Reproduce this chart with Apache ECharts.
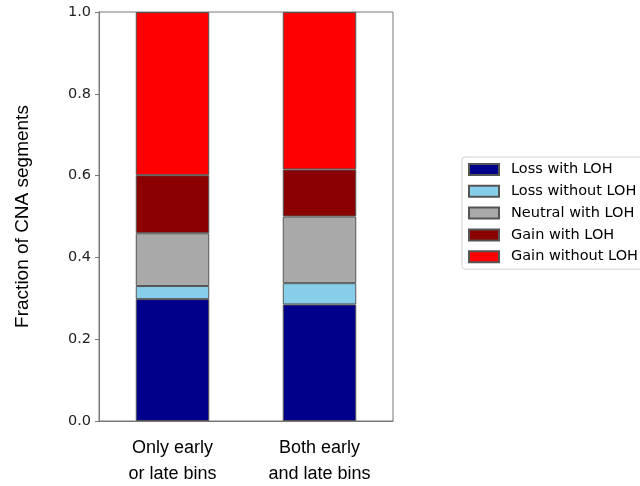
<!DOCTYPE html>
<html><head><meta charset="utf-8">
<script src="https://cdn.jsdelivr.net/npm/echarts@6/dist/echarts.min.js"></script>
<style>html,body{margin:0;padding:0;background:#fff}#c{width:640px;height:486px}</style>
</head><body><div id="c"></div>
<script>
const categories = ['Only early\nor late bins', 'Both early\nand late bins'];
const seriesNames = ['Loss with LOH', 'Loss without LOH', 'Neutral with LOH', 'Gain with LOH', 'Gain without LOH'];
const colors = ['#00008b', '#87ceeb', '#a9a9a9', '#8b0000', '#ff0000'];
const lossWithLOH = [0.298, 0.285];
const lossWithoutLOH = [0.032, 0.052];
const neutralWithLOH = [0.129, 0.163];
const gainWithLOH = [0.142, 0.115];
const gainWithoutLOH = [0.399, 0.385];
const yTicks = [0, 0.2, 0.4, 0.6, 0.8, 1.0];
const values = [lossWithLOH, lossWithoutLOH, neutralWithLOH, gainWithLOH, gainWithoutLOH];

const chart = echarts.init(document.getElementById('c'));
chart.setOption({
  animation: false,
  grid: {left: 99, right: 247, top: 12, bottom: 65, outerBoundsMode: 'none', containLabel: false,
    show: true, borderColor: '#777', borderWidth: 1, backgroundColor: 'transparent'},
  legend: {
    orient: 'vertical', left: 462, top: 157,
    icon: 'rect',
    itemWidth: 30, itemHeight: 11, itemGap: 6.8,
    padding: [5, 14, 5, 6],
    borderColor: '#d0d0d0', borderWidth: 1, borderRadius: 3,
    textStyle: {fontFamily: 'DejaVu Sans', fontSize: 14.5, color: '#000', padding: [0, 0, 0, 7]},
    data: seriesNames
  },
  xAxis: {
    type: 'category', data: categories,
    axisLine: {lineStyle: {color: '#777'}},
    axisTick: {alignWithLabel: true, length: 4, lineStyle: {color: '#777'}},
    axisLabel: {fontFamily: 'Liberation Sans', fontSize: 18, color: '#000', margin: 14, lineHeight: 26}
  },
  yAxis: {
    type: 'value', min: 0, max: 1, interval: 0.2,
    name: 'Fraction of CNA segments', nameLocation: 'middle', nameGap: 67,
    nameTextStyle: {fontFamily: 'Liberation Sans', fontSize: 19, color: '#000'},
    splitLine: {show: false},
    axisLine: {show: true, lineStyle: {color: '#777'}},
    axisTick: {show: true, length: 4, lineStyle: {color: '#777'}},
    axisLabel: {fontFamily: 'DejaVu Sans', fontSize: 14.5, color: '#222', margin: 8,
      formatter: v => { const t = yTicks.find(x => Math.abs(x - v) < 1e-9); return (t !== undefined ? t : v).toFixed(1); }}
  },
  series: seriesNames.map((n, i) => ({
    name: n, type: 'bar', stack: 'all', data: values[i], barWidth: '50%',
    itemStyle: {color: colors[i], borderColor: '#555', borderWidth: 1}
  }))
});
</script></body></html>
